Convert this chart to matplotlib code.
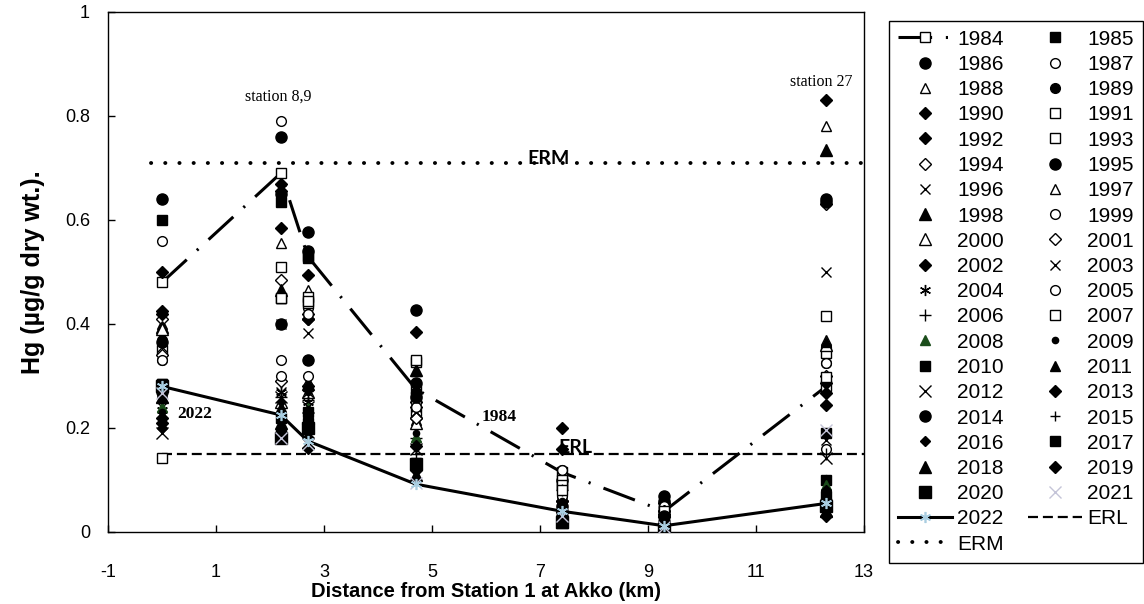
import matplotlib
matplotlib.use("Agg")
import matplotlib.pyplot as plt

plt.rcParams['font.family'] = ['Liberation Sans', 'DejaVu Sans']

# ---------------- data ----------------
distance = [0, 2.2, 2.7, 4.7, 7.4, 9.3, 12.3]

years = list(range(1984, 2023))

hg = {
    1984: [0.48, 0.69, 0.53, 0.275, 0.115, 0.04, 0.28],
    1985: [0.60, 0.635, 0.527, 0.26, 0.09, 0.05, 0.10],
    1986: [0.64, 0.76, 0.577, 0.427, 0.10, 0.07, 0.64],
    1987: [0.56, 0.79, 0.43, 0.24, 0.12, 0.06, 0.325],
    1988: [0.40, 0.556, 0.465, 0.21, 0.08, 0.045, 0.78],
    1989: [0.37, 0.40, 0.331, 0.27, 0.07, 0.065, 0.355],
    1990: [0.50, 0.67, 0.495, 0.385, 0.20, 0.055, 0.83],
    1991: [0.35, 0.51, 0.452, 0.327, 0.10, 0.05, 0.415],
    1992: [0.425, 0.655, 0.28, 0.25, 0.16, 0.04, 0.286],
    1993: [0.143, 0.45, 0.44, 0.23, 0.09, 0.03, 0.344],
    1994: [0.41, 0.485, 0.41, 0.22, 0.06, 0.035, 0.63],
    1995: [0.365, 0.65, 0.54, 0.286, 0.05, 0.06, 0.635],
    1996: [0.355, 0.27, 0.383, 0.24, 0.06, 0.03, 0.50],
    1997: [0.395, 0.45, 0.29, 0.215, 0.07, 0.02, 0.37],
    1998: [0.395, 0.465, 0.285, 0.312, 0.05, 0.03, 0.735],
    1999: [0.33, 0.33, 0.30, 0.25, 0.12, 0.05, 0.16],
    2000: [0.39, 0.25, 0.27, 0.21, 0.05, 0.04, 0.36],
    2001: [0.34, 0.29, 0.42, 0.22, 0.04, 0.03, 0.30],
    2002: [0.42, 0.585, 0.41, 0.24, 0.06, 0.04, 0.267],
    2003: [0.24, 0.40, 0.27, 0.23, 0.05, 0.03, 0.177],
    2004: [0.235, 0.27, 0.25, 0.17, 0.05, 0.02, 0.10],
    2005: [0.33, 0.30, 0.42, 0.24, 0.07, 0.04, 0.325],
    2006: [0.25, 0.26, 0.253, 0.18, 0.08, 0.03, 0.15],
    2007: [0.285, 0.45, 0.445, 0.33, 0.08, 0.04, 0.298],
    2008: [0.24, 0.20, 0.238, 0.183, 0.05, 0.03, 0.09],
    2009: [0.23, 0.25, 0.27, 0.19, 0.06, 0.03, 0.08],
    2010: [0.285, 0.22, 0.23, 0.133, 0.04, 0.02, 0.07],
    2011: [0.27, 0.24, 0.28, 0.31, 0.05, 0.03, 0.365],
    2012: [0.19, 0.26, 0.24, 0.16, 0.03, 0.02, 0.142],
    2013: [0.21, 0.18, 0.162, 0.165, 0.03, 0.02, 0.245],
    2014: [0.27, 0.40, 0.33, 0.26, 0.04, 0.03, 0.06],
    2015: [0.22, 0.25, 0.22, 0.15, 0.05, 0.02, 0.05],
    2016: [0.20, 0.19, 0.20, 0.12, 0.03, 0.02, 0.08],
    2017: [0.28, 0.19, 0.21, 0.13, 0.03, 0.01, 0.19],
    2018: [0.26, 0.21, 0.22, 0.11, 0.02, 0.01, 0.04],
    2019: [0.22, 0.19, 0.18, 0.12, 0.02, 0.01, 0.03],
    2020: [0.28, 0.18, 0.20, 0.13, 0.02, 0.005, 0.05],
    2021: [0.267, 0.18, 0.17, 0.094, 0.03, 0.01, 0.196],
    2022: [0.28, 0.225, 0.175, 0.092, 0.04, 0.012, 0.055],
}

ERL = 0.15
ERM = 0.71
x_ticks = [-1, 1, 3, 5, 7, 9, 11, 13]
y_ticks = [0, 0.2, 0.4, 0.6, 0.8, 1]
y_ticklabels = ['0', '0.2', '0.4', '0.6', '0.8', '1']

# ---------------- styles ----------------
K = 'black'
W = 'white'
ast6 = (6, 2, 0)
style = {
    1984: dict(marker='s', ms=7, mfc=W),
    1985: dict(marker='s', ms=7, mfc=K),
    1986: dict(marker='o', ms=8, mfc=K),
    1987: dict(marker='o', ms=7, mfc=W),
    1988: dict(marker='^', ms=7, mfc=W),
    1989: dict(marker='o', ms=7, mfc=K),
    1990: dict(marker='D', ms=6, mfc=K),
    1991: dict(marker='s', ms=6.5, mfc=W),
    1992: dict(marker='D', ms=6, mfc=K),
    1993: dict(marker='s', ms=6.5, mfc=W),
    1994: dict(marker='D', ms=6, mfc=W),
    1995: dict(marker='o', ms=8, mfc=K),
    1996: dict(marker='x', ms=7, mfc=K),
    1997: dict(marker='^', ms=6.5, mfc=W),
    1998: dict(marker='^', ms=8, mfc=K),
    1999: dict(marker='o', ms=7, mfc=W),
    2000: dict(marker='^', ms=8, mfc=W),
    2001: dict(marker='D', ms=6, mfc=W),
    2002: dict(marker='D', ms=6, mfc=K),
    2003: dict(marker='x', ms=7, mfc=K),
    2004: dict(marker=ast6, ms=8, mfc=K),
    2005: dict(marker='o', ms=7, mfc=W),
    2006: dict(marker='+', ms=8, mfc=K),
    2007: dict(marker='s', ms=6.5, mfc=W),
    2008: dict(marker='^', ms=7, mfc='#1b4d1b', mec='#1b4d1b'),
    2009: dict(marker='o', ms=4.5, mfc=K),
    2010: dict(marker='s', ms=7, mfc=K),
    2011: dict(marker='^', ms=7, mfc=K),
    2012: dict(marker='x', ms=8, mfc=K),
    2013: dict(marker='D', ms=6, mfc=K),
    2014: dict(marker='o', ms=8, mfc=K),
    2015: dict(marker='+', ms=7, mfc=K),
    2016: dict(marker='D', ms=5.5, mfc=K),
    2017: dict(marker='s', ms=7, mfc=K),
    2018: dict(marker='^', ms=8.5, mfc=K),
    2019: dict(marker='D', ms=6, mfc=K),
    2020: dict(marker='s', ms=9, mfc=K),
    2021: dict(marker='x', ms=8, mfc='#c4c4d8', mec='#c4c4d8'),
    2022: dict(marker=ast6, ms=8, mfc='#a9cde0', mec='#a9cde0'),
}

fig = plt.figure(figsize=(11.44, 6.04), dpi=100)
ax = fig.add_axes([108/1144, 1-532/604, (864-108)/1144, (532-12)/604])

handles = {}
for i, yr in enumerate(years):
    st = dict(style[yr])
    st.setdefault('mec', K)
    if yr == 1984:
        h, = ax.plot(distance, hg[yr], color=K, lw=2.2,
                     dashes=(11, 4.5, 0.7, 4.5), mew=1.0, zorder=2, **st)
    elif yr == 2022:
        h, = ax.plot(distance, hg[yr], color=K, lw=2.2, ls='-',
                     mew=1.2, zorder=60, **st)
    else:
        h, = ax.plot(distance, hg[yr], ls='none', mew=1.0, zorder=3 + i, **st)
    h.set_label(str(yr))
    handles[str(yr)] = h

h_erl, = ax.plot([0, 13], [ERL, ERL], color=K, lw=1.6, dashes=(4.5, 2.2), zorder=1, label='ERL')
h_erm, = ax.plot([-0.2, 13], [ERM, ERM], color=K, lw=2.8, dashes=(0.05, 3.6),
                 dash_capstyle='round', zorder=1, label='ERM')

ax.set_xlim(-1, 13)
ax.set_ylim(0, 1)
ax.set_xticks(x_ticks)
ax.set_yticks(y_ticks)
ax.set_xticklabels([str(t) for t in x_ticks])
ax.set_yticklabels(y_ticklabels)
ax.tick_params(direction='in', length=5, width=1, labelsize=13)
ax.tick_params(axis='x', pad=23)
ax.tick_params(axis='y', pad=13)
for s in ax.spines.values():
    s.set_linewidth(1.0)

ax.set_xlabel('Distance from Station 1 at Akko (km)', fontsize=14.5, fontweight='bold', labelpad=1)
ax.set_ylabel('Hg (µg/g dry wt.).', fontsize=18, fontweight='bold', labelpad=14)

# annotations
ax.text(2.15, 0.838, 'station 8,9', family='Liberation Serif', fontsize=11.5, ha='center', va='center')
ax.text(12.2, 0.866, 'station 27', family='Liberation Serif', fontsize=11.5, ha='center', va='center')
ax.text(0.6, 0.227, '2022', family='Liberation Serif', fontsize=12.5, fontweight='bold', ha='center', va='center')
ax.text(6.25, 0.222, '1984', family='Liberation Serif', fontsize=12.5, fontweight='bold', ha='center', va='center')
ax.text(7.15, 0.719, 'ERM', family=['Lato', 'DejaVu Sans'], fontsize=14, fontweight='bold', ha='center', va='center')
ax.text(7.65, 0.147, 'ERL', family=['Lato', 'DejaVu Sans'], fontsize=14, fontweight='bold', ha='center', va='bottom')

# legend: row-wise order in 2 columns
entries = [handles[str(y)] for y in years] + [h_erl, h_erm]
ordered = entries[0::2] + entries[1::2]
leg = fig.legend(handles=ordered, labels=[h.get_label() for h in ordered],
                 loc='upper left', bbox_to_anchor=(889/1144, 1-21/604),
                 ncol=2, fontsize=15, frameon=True, fancybox=False,
                 edgecolor=K, framealpha=1, borderaxespad=0, borderpad=0.42,
                 handlelength=2.6, handletextpad=0.25, columnspacing=1.16,
                 labelspacing=0.3, numpoints=1)
leg.get_frame().set_linewidth(1.0)

fig.savefig('out.png', dpi=100)
